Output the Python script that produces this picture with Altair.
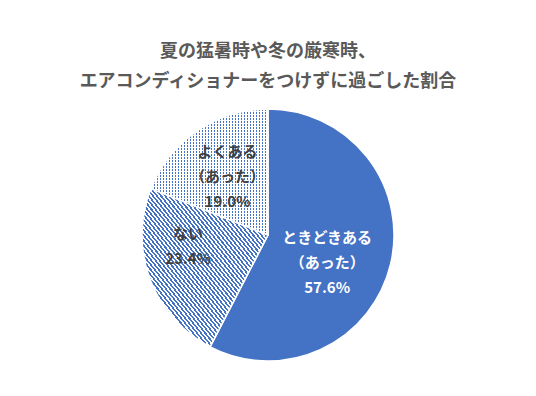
import altair as alt
import pandas as pd

# ---- data ----
categories = ["ときどきある（あった）", "ない", "よくある（あった）"]
values = [57.6, 23.4, 19.0]
label_lines = [
    "ときどきある\n（あった）\n57.6%",
    "ない\n23.4%",
    "よくある\n（あった）\n19.0%",
]
title_lines = ["夏の猛暑時や冬の厳寒時、", "エアコンディショナーをつけずに過ごした割合"]

df = pd.DataFrame({
    "category": categories,
    "value": values,
    "label": label_lines,
    "order": list(range(len(categories))),
})

BLUE = "#4472C4"
FONT = "Noto Sans CJK JP"
R = 126


def stripes(n, frac, c_on, c_off, x1, y1, x2, y2):
    stops = []
    for i in range(n):
        a = i / n
        b = (i + frac) / n
        c = (i + 1) / n
        stops += [
            alt.GradientStop(offset=a, color=c_on),
            alt.GradientStop(offset=b, color=c_on),
            alt.GradientStop(offset=b, color=c_off),
            alt.GradientStop(offset=c, color=c_off),
        ]
    return alt.LinearGradient(gradient="linear", stops=stops, x1=x1, y1=y1, x2=x2, y2=y2)


hatch = stripes(62, 0.5, BLUE, "#ffffff", 0, 1, 1, 0)
dots_v = stripes(39, 0.42, BLUE, "#ffffff", 0, 0, 1, 0)
dots_h = stripes(42, 0.58, "rgba(255,255,255,0)", "#ffffff", 0, 0, 0, 1)

theta_scale = alt.Scale(domain=[0, 100])

base = alt.Chart(df).transform_window(
    cum="sum(value)", frame=[None, 0], sort=[alt.SortField("order")]
).transform_calculate(
    start="datum.cum - datum.value",
    mid="datum.cum - datum.value / 2",
)

arc_enc = dict(
    theta=alt.Theta("start:Q", scale=theta_scale),
    theta2=alt.Theta2("cum:Q"),
)


def sel(i):
    return base.transform_filter(alt.datum.category == categories[i])


solid = sel(0).mark_arc(radius=R, fill=BLUE, stroke="white", strokeWidth=1.5).encode(**arc_enc)
hatched = sel(1).mark_arc(radius=R, fill=hatch, stroke="white", strokeWidth=1.5).encode(**arc_enc)
dot_base = sel(2).mark_arc(radius=R, fill=dots_v, strokeWidth=0).encode(**arc_enc)
dot_top = sel(2).mark_arc(radius=R, fill=dots_h, stroke="white", strokeWidth=1.5).encode(**arc_enc)


def label(i, radius, color, dx, dy):
    return sel(i).mark_text(
        radius=radius, lineBreak="\n", lineHeight=25, fontSize=15, fontWeight="bold",
        font=FONT, color=color, align="center", baseline="middle", dx=dx, dy=dy,
    ).encode(theta=alt.Theta("mid:Q", scale=theta_scale), text="label:N")


labels = [
    label(0, 65, "white", -4, -12),
    label(1, 80, "#404040", -5, -29),
    label(2, 72, "#404040", 0, -23),
]

chart = alt.layer(solid, hatched, dot_base, dot_top, *labels).properties(
    width=520,
    height=276,
    padding={"top": 35, "bottom": 5, "left": 0, "right": 0},
    title=alt.TitleParams(
        text=title_lines, fontSize=18, fontWeight="bold", color="#595959",
        font=FONT, lineHeight=30, anchor="middle", offset=6,
    ),
).configure_view(stroke=None).configure(background="white")

chart.save("out.html", embed_options={"renderer": "svg", "actions": False})
